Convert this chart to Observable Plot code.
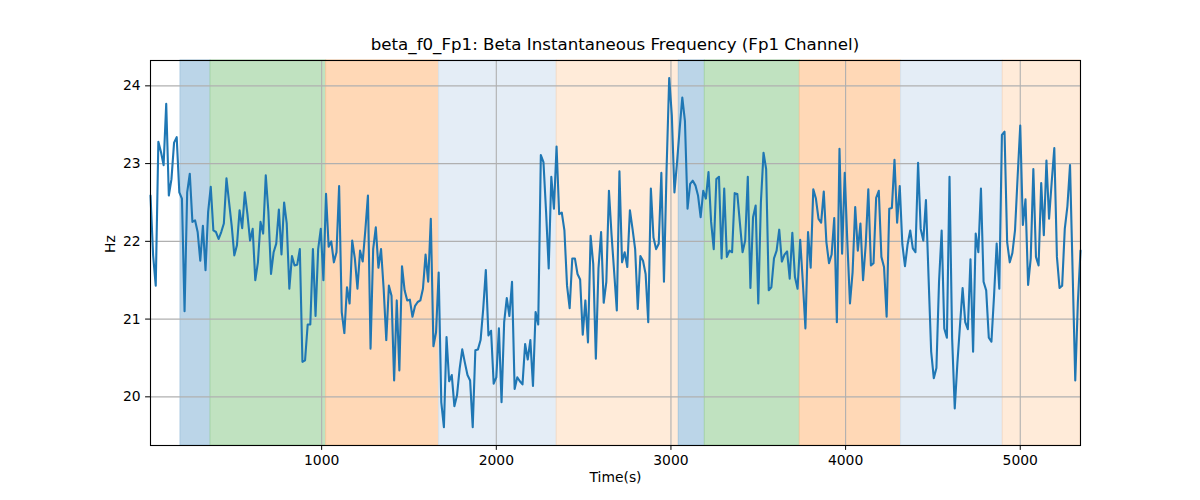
<!DOCTYPE html>
<html><head><meta charset="utf-8">
<script src="https://cdn.jsdelivr.net/npm/d3@7"></script>
<script src="https://cdn.jsdelivr.net/npm/@observablehq/plot@0.6"></script>
<style>
body{margin:0;background:#fff;font-family:"DejaVu Sans",sans-serif;}
#wrap{position:relative;width:1200px;height:500px;overflow:hidden;}
#title{position:absolute;left:615px;top:35px;transform:translateX(-50%);font-size:16.67px;white-space:nowrap;color:#000;line-height:20px;z-index:2;}
#chart{position:absolute;left:0;top:40px;z-index:1;}
</style></head><body>
<div id="wrap"><div id="chart"></div><div id="title">beta_f0_Fp1: Beta Instantaneous Frequency (Fp1 Channel)</div></div>
<script>
// sampling grid (seconds)
const T0 = 20, STEP = 15;
// beta instantaneous frequency, Hz
const hz = [
22.59,21.82,21.43,23.28,23.15,22.98,23.77,22.59,22.80,23.27,23.34,22.63,22.55,21.10,22.63,22.87,22.25,22.27,22.12,21.75,
22.20,21.63,22.38,22.70,22.14,22.12,22.03,22.12,22.23,22.81,22.50,22.20,21.82,21.95,22.40,22.17,22.63,22.35,22.01,22.16,
21.50,21.73,22.25,22.10,22.85,
22.38,21.58,21.86,21.97,22.41,21.83,22.50,22.23,21.39,21.81,21.69,21.70,21.90,20.45,20.47,20.93,20.93,21.90,21.04,21.90,
22.16,21.50,22.61,21.93,22.00,21.73,21.86,22.71,21.09,20.82,21.41,21.20,22.01,21.78,21.39,21.88,21.74,22.14,22.59,20.62,
21.90,22.18,21.66,21.90,
21.39,20.73,21.43,21.30,20.21,21.24,20.34,21.68,21.37,21.24,21.25,21.03,21.17,21.22,21.24,21.39,21.83,21.48,22.29,20.65,
20.83,21.60,19.93,19.61,20.77,20.20,20.28,19.88,20.02,20.36,20.61,20.44,20.28,20.21,19.61,20.60,20.61,20.73,21.13,21.63,
20.79,20.85,20.17,20.25,
20.88,19.93,20.96,21.27,21.04,21.48,20.10,20.25,20.20,20.16,20.68,20.48,20.73,20.14,21.09,20.93,23.11,23.02,22.38,21.65,
22.83,22.42,23.22,22.35,22.37,22.14,21.43,21.14,21.78,21.78,21.58,21.51,20.80,21.24,20.70,22.07,21.71,20.49,21.65,22.12,
21.21,21.48,22.65,
22.08,21.60,21.11,22.90,21.73,21.86,21.67,22.40,22.16,21.90,21.13,21.81,21.75,21.58,20.96,22.68,22.05,21.90,21.97,22.88,
21.48,22.93,24.10,23.62,22.63,23.02,23.45,23.85,23.55,22.42,22.74,22.78,22.72,22.59,22.31,22.65,22.55,22.89,22.25,21.90,
22.80,22.83,21.78,22.68,
21.80,21.88,21.86,22.62,22.61,22.23,21.86,22.01,22.83,21.40,22.31,22.46,21.20,22.50,23.14,22.93,21.37,21.41,21.78,21.88,
22.15,21.74,21.83,21.87,21.52,22.11,21.54,21.39,22.02,21.48,20.88,22.12,21.66,22.67,22.55,22.29,22.24,22.64,21.99,21.72,
21.83,22.30,20.96,23.19,
21.84,22.88,21.99,21.20,21.60,22.44,21.88,22.23,21.50,21.95,22.67,21.69,21.72,22.56,22.65,21.80,21.67,21.03,22.42,22.43,
23.05,22.24,22.71,21.96,21.68,21.96,22.14,21.91,21.86,23.01,22.16,22.01,22.53,21.54,20.58,20.24,20.37,21.48,22.14,20.88,
20.76,22.83,20.75,19.85,
20.43,20.92,21.40,20.96,20.87,21.77,20.58,22.10,21.86,22.68,21.48,21.37,20.76,20.71,21.30,21.97,21.39,23.37,23.41,21.99,
21.73,21.85,22.14,22.83,23.49,22.21,22.54,21.44,21.78,22.93,21.80,21.69,22.75,22.08,23.04,22.29,22.76,23.20,21.80,21.40,
21.43,22.16,22.45,22.98,21.60,20.21,21.22,21.88
];
const times = hz.map((_, i) => T0 + i * STEP);

// shaded segments
const bandStart = [192, 364, 1026, 1673, 2346, 3045, 3194, 3738, 4318, 4900];
const bandEnd   = [364, 1026, 1673, 2346, 3045, 3194, 3738, 4318, 4900, 5345];
const bandKind  = ["blue","green","orange","lightblue","lightorange","blue","green","orange","lightblue","lightorange"];
const xTicks = [1000, 2000, 3000, 4000, 5000];
const yTicks = [20, 21, 22, 23, 24];

const kindFill = {blue:"#bbd5e8", green:"#c0e2c0", orange:"#ffd8b6", lightblue:"#e4edf6", lightorange:"#ffebd9"};
const kindEdge = {blue:"#a6c8e0", green:"#a8d6a8", orange:"#f7c9a0", lightblue:"#d6e3ef", lightorange:"#f6dcc6"};

const rows = hz.map((v, i) => ({t: times[i], v}));
const bands = bandStart.map((s, i) => ({s, e: bandEnd[i], k: bandKind[i]}));

const font = {fontFamily: "DejaVu Sans", fontSize: 13.9};
const chart = Plot.plot({
  width: 1200, height: 460,
  marginLeft: 150, marginRight: 120, marginTop: 20, marginBottom: 55,
  style: {fontFamily: "DejaVu Sans", fontSize: "13.9px", color: "#000", background: "transparent"},
  x: {domain: [times[0], times[times.length - 1]]},
  y: {domain: [19.374, 24.326]},
  marks: [
    Plot.rect(bands, {x1: "s", x2: "e", fill: d => kindFill[d.k], stroke: d => kindEdge[d.k], strokeWidth: 1}),
    Plot.gridX(xTicks, {stroke: "#b0b0b0", strokeOpacity: 1, strokeWidth: 1.1}),
    Plot.gridY(yTicks, {stroke: "#b0b0b0", strokeOpacity: 1, strokeWidth: 1.1}),
    Plot.lineY(rows, {x: "t", y: "v", stroke: "#1f77b4", strokeWidth: 2.1}),
    Plot.axisX(xTicks, {tickSize: 4.9, tickPadding: 4.9, label: null, tickFormat: d => String(d), stroke: "#000", fill: "#000", ...font}),
    Plot.axisY(yTicks, {tickSize: 4.9, tickPadding: 4.9, label: null, tickFormat: d => String(d), stroke: "#000", fill: "#000", ...font}),
    Plot.text(["Time(s)"], {frameAnchor: "bottom", dy: 36, fill: "#000", ...font}),
    Plot.text(["Hz"], {frameAnchor: "left", dx: -40, rotate: -90, fill: "#000", ...font}),
    Plot.frame({stroke: "#000", strokeWidth: 1.1})
  ]
});
document.getElementById("chart").appendChild(chart);
</script>
</body></html>
